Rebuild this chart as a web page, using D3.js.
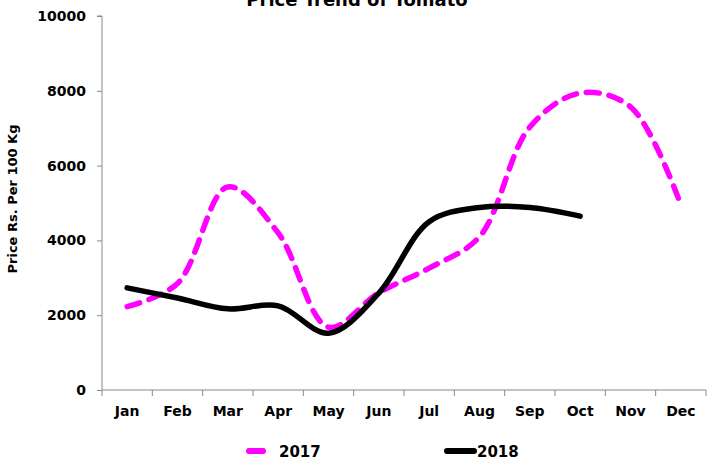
<!DOCTYPE html>
<html><head><meta charset="utf-8">
<script src="https://cdn.jsdelivr.net/npm/d3@7"></script>
<style>body{margin:0;background:#fff}svg{display:block}</style>
</head><body><svg id="c" width="710" height="466"></svg>
<script>
const months = ["Jan","Feb","Mar","Apr","May","Jun","Jul","Aug","Sep","Oct","Nov","Dec"];
const values2017 = [2230, 2850, 5430, 4200, 1680, 2600, 3260, 4100, 7030, 7940, 7570, 4950];
const values2018 = [2730, 2460, 2170, 2250, 1520, 2590, 4500, 4880, 4880, 4650];
const yTicks = [0, 2000, 4000, 6000, 8000, 10000];
const seriesNames = ["2017", "2018"];

const svg = d3.select("#c");
const font = "'DejaVu Sans', Verdana, sans-serif";
const x = d3.scaleBand().domain(months).range([102, 706]);
const y = d3.scaleLinear().domain([0, 10000]).range([390, 16]);

// title (cut off at top)
svg.append("text").attr("x", 357).attr("y", 6).attr("text-anchor", "middle")
  .attr("font-family", font).attr("font-weight", "bold").attr("font-size", 18)
  .text("Price Trend of Tomato");

// y axis
const yAxis = svg.append("g").attr("transform", "translate(102,0)")
  .call(d3.axisLeft(y).tickValues(yTicks).tickSize(5).tickPadding(11).tickFormat(d3.format("d")));
yAxis.select(".domain").attr("stroke", "#888").attr("d", "M-5,16H0V390");
yAxis.selectAll(".tick line").attr("stroke", "#888");
yAxis.selectAll("text").attr("font-family", font).attr("font-weight", "bold").attr("font-size", 14).attr("fill", "#000");

// x axis
const xAxis = svg.append("g").attr("transform", "translate(0,390)")
  .call(d3.axisBottom(x).tickSize(0).tickPadding(16));
xAxis.select(".domain").attr("stroke", "#888").attr("d", "M102,0H706");
xAxis.selectAll("text").attr("font-family", font).attr("font-weight", "bold").attr("font-size", 14).attr("fill", "#000");
// band boundary ticks
const bounds = months.map(m => x(m)).concat([x.range()[1]]);
svg.append("g").selectAll("line").data(bounds).join("line")
  .attr("x1", d => d).attr("x2", d => d).attr("y1", 390).attr("y2", 396).attr("stroke", "#888");

// y axis title
svg.append("text").attr("transform", "translate(17,199) rotate(-90)").attr("text-anchor", "middle")
  .attr("font-family", font).attr("font-weight", "bold").attr("font-size", 13)
  .text("Price Rs. Per 100 Kg");

const line = d3.line().x((d, i) => x(months[i]) + x.bandwidth() / 2).y(d => y(d))
  .curve(d3.curveCatmullRom.alpha(0.5));

svg.append("path").datum(values2017).attr("d", line).attr("fill", "none")
  .attr("stroke", "#ff00ff").attr("stroke-width", 5.5).attr("stroke-dasharray", "13,10")
  .attr("stroke-linecap", "round");
svg.append("path").datum(values2018).attr("d", line).attr("fill", "none")
  .attr("stroke", "#000").attr("stroke-width", 5.5).attr("stroke-linecap", "round");

// legend
const lg = svg.append("g");
lg.append("line").attr("x1", 249).attr("x2", 263).attr("y1", 451).attr("y2", 451)
  .attr("stroke", "#ff00ff").attr("stroke-width", 6).attr("stroke-linecap", "round");
lg.append("text").attr("x", 279).attr("y", 457).attr("font-family", font).attr("font-weight", "bold")
  .attr("font-size", 15).text(seriesNames[0]);
lg.append("line").attr("x1", 447).attr("x2", 474).attr("y1", 451).attr("y2", 451)
  .attr("stroke", "#000").attr("stroke-width", 6).attr("stroke-linecap", "round");
lg.append("text").attr("x", 477).attr("y", 457).attr("font-family", font).attr("font-weight", "bold")
  .attr("font-size", 15).text(seriesNames[1]);
</script></body></html>
